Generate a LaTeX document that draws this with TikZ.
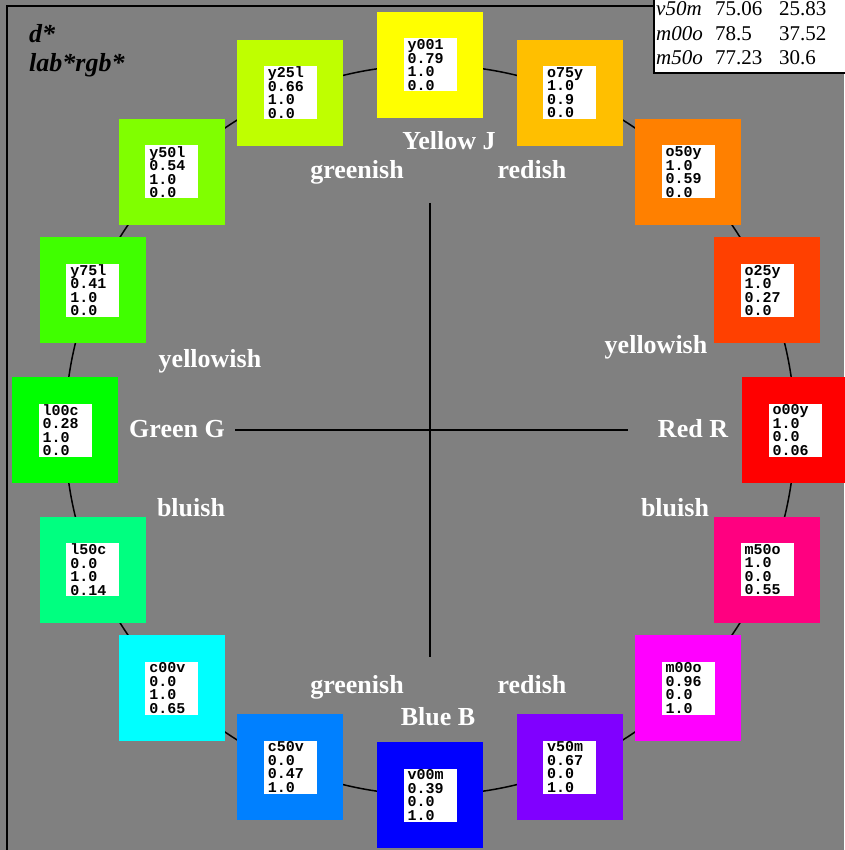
\documentclass[tikz,border=0pt]{standalone}
\usepackage{fontspec}
\setmainfont{Liberation Serif}
\newfontfamily\cellfont{Liberation Mono}
\definecolor{bg}{RGB}{128,128,128}
\definecolor{c1}{RGB}{255,255,0}
\definecolor{c2}{RGB}{255,191,0}
\definecolor{c3}{RGB}{255,128,0}
\definecolor{c4}{RGB}{255,64,0}
\definecolor{c5}{RGB}{255,0,0}
\definecolor{c6}{RGB}{255,0,128}
\definecolor{c7}{RGB}{255,0,255}
\definecolor{c8}{RGB}{128,0,255}
\definecolor{c9}{RGB}{0,0,255}
\definecolor{c10}{RGB}{0,128,255}
\definecolor{c11}{RGB}{0,255,255}
\definecolor{c12}{RGB}{0,255,128}
\definecolor{c13}{RGB}{0,255,0}
\definecolor{c14}{RGB}{64,255,0}
\definecolor{c15}{RGB}{128,255,0}
\definecolor{c16}{RGB}{191,255,0}
\begin{document}
\begin{tikzpicture}[x=1pt,y=-1pt,
  patch/.style={minimum size=106pt, inner sep=0pt},
  cell/.style={fill=white, minimum width=53pt, minimum height=53pt, inner xsep=4pt, inner ysep=0pt, text width=45pt, align=left, font=\cellfont\bfseries\fontsize{15}{13.5}\selectfont},
  lbl/.style={text=white, font=\bfseries\fontsize{26}{30}\selectfont, inner sep=0pt, anchor=base},
  tabtxt/.style={font=\fontsize{21}{24}\selectfont, inner sep=0pt, anchor=base west},
  ttl/.style={font=\bfseries\itshape\fontsize{26}{30}\selectfont, inner sep=0pt, anchor=base west},
  thick line/.style={line width=1.5pt}
]
\useasboundingbox (0,0) rectangle (844,850);
\fill[bg] (0,0) rectangle (844,850);
% frame
\coordinate (fb) at (7,851);
\coordinate (ft) at (7,6);
\coordinate (fr) at (654,6);
\draw[line width=2pt] (fb) -- (ft) -- (fr);
% circle
\coordinate (c) at (430,430);
\draw[thick line] (c) circle[radius=365];
% axes
\coordinate (hl) at (235,430);
\coordinate (hr) at (628,430);
\coordinate (vt) at (430,203);
\coordinate (vb) at (430,657);
\draw[thick line] (hl) -- (hr);
\draw[thick line] (vt) -- (vb);
% patches
\foreach \a/\n/\p/\q/\r [count=\i] in {
  90/y001/0.79/1.0/0.0,
  67.5/o75y/1.0/0.9/0.0,
  45/o50y/1.0/0.59/0.0,
  22.5/o25y/1.0/0.27/0.0,
  0/o00y/1.0/0.0/0.06,
  -22.5/m50o/1.0/0.0/0.55,
  -45/m00o/0.96/0.0/1.0,
  -67.5/v50m/0.67/0.0/1.0,
  -90/v00m/0.39/0.0/1.0,
  -112.5/c50v/0.0/0.47/1.0,
  -135/c00v/0.0/1.0/0.65,
  -157.5/l50c/0.0/1.0/0.14,
  180/l00c/0.28/1.0/0.0,
  157.5/y75l/0.41/1.0/0.0,
  135/y50l/0.54/1.0/0.0,
  112.5/y25l/0.66/1.0/0.0}{
  \node[patch, fill=c\i] (sq\i) at ([shift={(-\a:365)}]c) {};
  \node[cell] (cell\i) at (sq\i.center) {\n\\\p\\\q\\\r};
}
% labels
\node[lbl] (yj) at (449,150) {Yellow J};
\node[lbl] (gt) at (357,179) {greenish};
\node[lbl] (rt) at (532,179) {redish};
\node[lbl] (yl) at (210,367) {yellowish};
\node[lbl] (yr) at (656,353) {yellowish};
\node[lbl] (gg) at (177,437) {Green G};
\node[lbl] (rr) at (693,437) {Red R};
\node[lbl] (bl) at (191,516) {bluish};
\node[lbl] (br) at (675,516) {bluish};
\node[lbl] (gb) at (357,693) {greenish};
\node[lbl] (rb) at (532,693) {redish};
\node[lbl] (bb) at (438,725) {Blue B};
% title
\node[ttl] (t1) at (29,43) {d*};
\node[ttl] (t2) at (29,72) {lab*rgb*};
% table
\coordinate (tb1) at (654,-3);
\coordinate (tb2) at (847,73);
\draw[fill=white, thick line] (tb1) rectangle (tb2);
\node[tabtxt, font=\itshape\fontsize{21}{24}\selectfont] (r1a) at (656,16) {v50m};
\node[tabtxt] (r1b) at (715,16) {75.06};
\node[tabtxt] (r1c) at (779,16) {25.83};
\node[tabtxt, font=\itshape\fontsize{21}{24}\selectfont] (r2a) at (656,40.5) {m00o};
\node[tabtxt] (r2b) at (715,40.5) {78.5};
\node[tabtxt] (r2c) at (779,40.5) {37.52};
\node[tabtxt, font=\itshape\fontsize{21}{24}\selectfont] (r3a) at (656,65) {m50o};
\node[tabtxt] (r3b) at (715,65) {77.23};
\node[tabtxt] (r3c) at (779,65) {30.6};
\end{tikzpicture}
\end{document}
